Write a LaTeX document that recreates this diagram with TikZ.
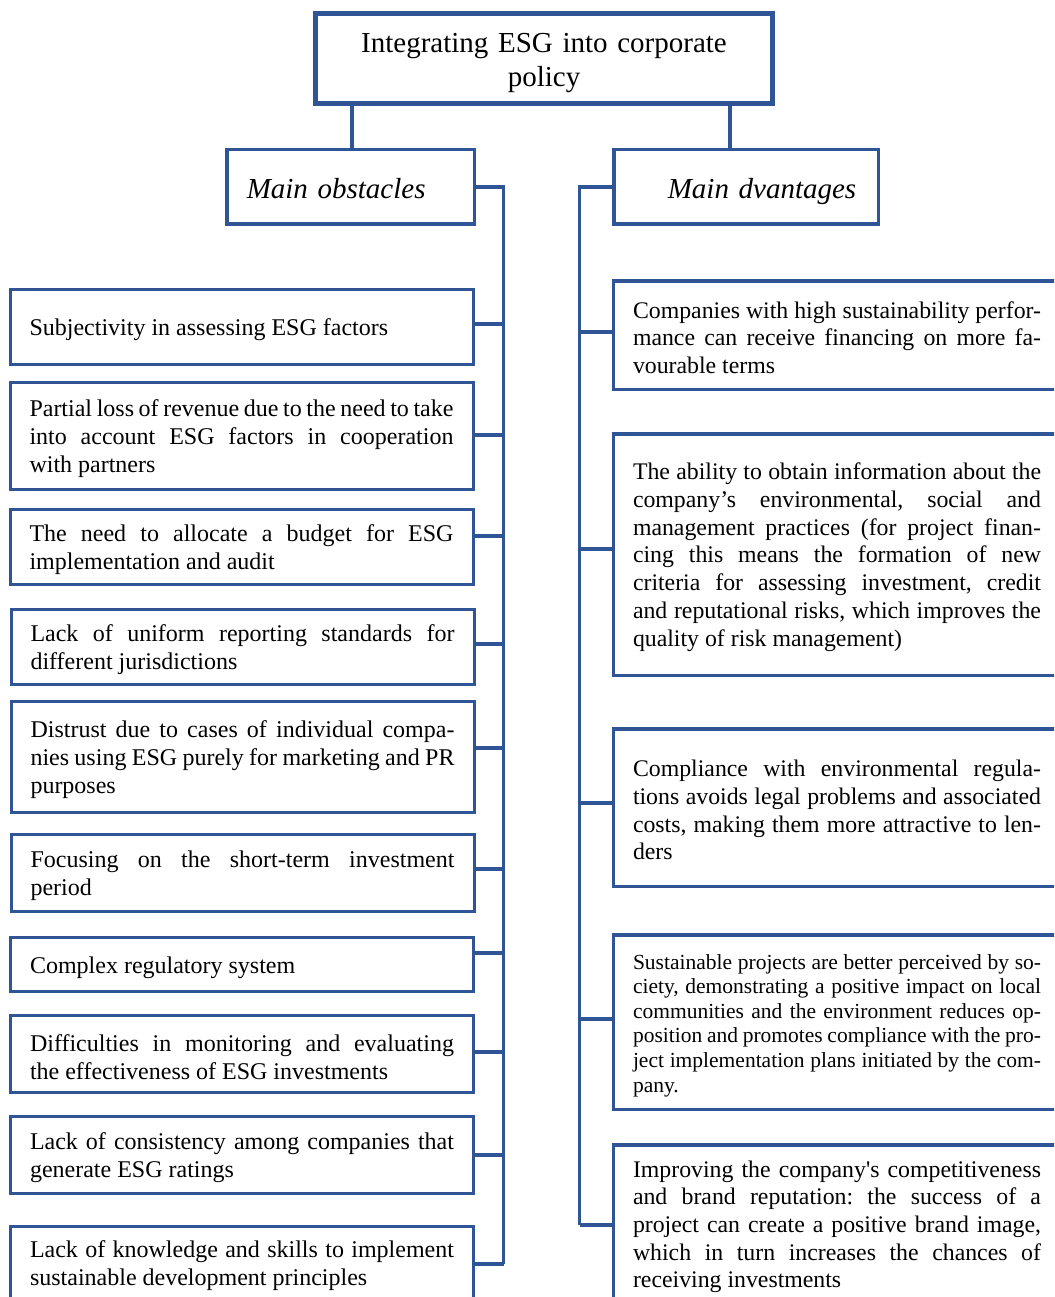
\documentclass[tikz,border=0pt]{standalone}
\usepackage{fontspec}
\setmainfont{Liberation Serif}
\definecolor{esgblue}{HTML}{2F5597}
\tolerance=10000
\hbadness=10000
\frenchspacing

\begin{document}
\begin{tikzpicture}[x=1pt, y=-1pt,
    link/.style={draw=esgblue, line width=3.2pt},
    topbox/.style={draw=esgblue, line width=5pt, align=center, text width=440pt,
        minimum width=457pt, minimum height=90pt, inner sep=0pt, text height=29pt,
        font=\fontsize{29}{34}\selectfont},
    headbox/.style={draw=esgblue, line width=3.5pt, minimum height=74.5pt, inner sep=0pt,
        text height=24pt, text depth=0pt, font=\fontsize{29}{34}\selectfont\itshape},
    obst/.style={draw=esgblue, line width=3pt, align=justify, text width=424pt,
        minimum width=463pt, inner sep=0pt, font=\fontsize{24}{28}\selectfont,
        execute at begin node=\rule{0pt}{23pt}},
    adv/.style={draw=esgblue, line width=3.5pt, align=justify, text width=408pt,
        minimum width=447pt, inner sep=0pt, font=\fontsize{23.8}{27.7}\selectfont,
        execute at begin node=\rule{0pt}{22pt}},
]
\useasboundingbox (0,0) rectangle (1054,1297);
\clip (0,0) rectangle (1054,1297);

% title and the two heads
\node[topbox] (top) at (544,58.5) {Integrating ESG into corporate\\ policy};
\node[headbox, align=left, text width=207.5pt, minimum width=247.5pt] (obsthead) at (350.5,187) {Main obstacles};
\node[headbox, align=right, text width=220.5pt, minimum width=264.5pt] (advhead) at (746,187) {Main dvantages};

\coordinate (tl) at (352,0);
\coordinate (tr) at (730,0);
\draw[link] (top.south -| tl) -- (obsthead.north -| tl);
\draw[link] (top.south -| tr) -- (advhead.north -| tr);

% obstacles
\node[obst, minimum height=75pt] (o1) at (241.5,327) {Subjectivity in assessing ESG factors};
\node[obst, minimum height=107pt] (o2) at (241.5,436) {Partial loss of revenue due to the need to take\linebreak into account ESG factors in cooperation\linebreak with partners};
\node[obst, minimum height=75pt] (o3) at (241.5,547) {The need to allocate a budget for ESG\linebreak implementation and audit};
\node[obst, minimum height=75pt] (o4) at (242.5,647) {Lack of uniform reporting standards for\linebreak different jurisdictions};
\node[obst, minimum height=111pt] (o5) at (242.5,757) {Distrust due to cases of individual compa-\linebreak nies using ESG purely for marketing and PR\linebreak purposes};
\node[obst, minimum height=77pt] (o6) at (242.5,873) {Focusing on the short-term investment\linebreak period};
\node[obst, minimum height=54pt] (o7) at (242,964.5) {Complex regulatory system};
\node[obst, minimum height=77pt] (o8) at (242,1054) {Difficulties in monitoring and evaluating\linebreak the effectiveness of ESG investments};
\node[obst, minimum height=77pt] (o9) at (242,1155) {Lack of consistency among companies that\linebreak generate ESG ratings};
\node[obst, minimum height=73pt] (o10) at (242,1263) {Lack of knowledge and skills to implement\linebreak sustainable development principles};

% advantages
\node[adv, minimum height=108.5pt] (a1) at (837,335) {Companies with high sustainability perfor-\linebreak mance can receive financing on more fa-\linebreak vourable terms};
\node[adv, minimum height=241.5pt] (a2) at (837,554.5) {The ability to obtain information about the\linebreak company’s environmental, social and\linebreak management practices (for project finan-\linebreak cing this means the formation of new\linebreak criteria for assessing investment, credit\linebreak and reputational risks, which improves the\linebreak quality of risk management)};
\node[adv, minimum height=157.5pt] (a3) at (837,807.5) {Compliance with environmental regula-\linebreak tions avoids legal problems and associated\linebreak costs, making them more attractive to len-\linebreak ders};
\node[adv, minimum height=174.5pt, font=\fontsize{21.5}{24.6}\selectfont,
    execute at begin node=\rule{0pt}{20pt}] (a4) at (837,1022) {Sustainable projects are better perceived by so-\linebreak ciety, demonstrating a positive impact on local\linebreak communities and the environment reduces op-\linebreak position and promotes compliance with the pro-\linebreak ject implementation plans initiated by the com-\linebreak pany.};
\node[adv, minimum height=158.5pt] (a5) at (837,1224) {Improving the company\textquotesingle s competitiveness\linebreak and brand reputation: the success of a\linebreak project can create a positive brand image,\linebreak which in turn increases the chances of\linebreak receiving investments};

% buses and branches
\coordinate (lend) at (503.5,1264);
\coordinate (rend) at (579.5,1225);
\draw[link] (obsthead.east) -| (lend);
\draw[link] (advhead.west) -| (rend);
\foreach \i/\dy in {1/3,2/1,3/11,4/3,5/9,6/4,7/11.5,8/2,9/0,10/-1}
    \draw[link] ([yshift=\dy pt]o\i.east) -- ([yshift=\dy pt]o\i.east -| lend);
\foreach \i/\dy in {1/3,2/5.5,3/4.5,4/3,5/-1}
    \draw[link] ([yshift=\dy pt]a\i.west) -- ([yshift=\dy pt]a\i.west -| rend);
\end{tikzpicture}
\end{document}
